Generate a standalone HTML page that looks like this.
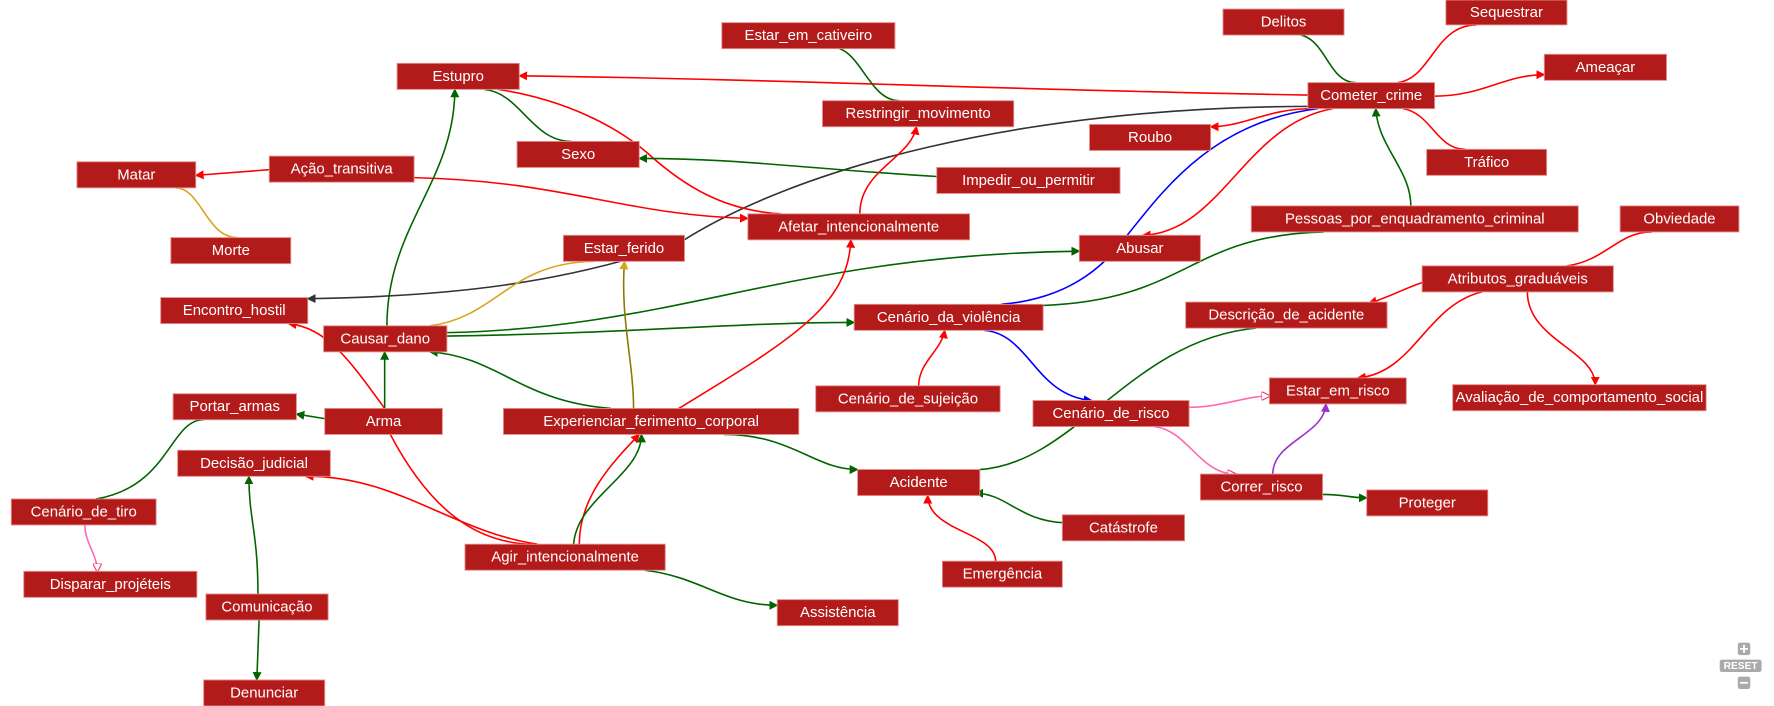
<!DOCTYPE html>
<html><head><meta charset="utf-8"><style>
html,body{margin:0;padding:0;background:#fff;}
svg{display:block;}
.n rect{fill:#b31b1b;stroke:#e58a8a;stroke-width:0.8;}
.n text{fill:#fff;font-family:"Liberation Sans",sans-serif;font-size:13.2px;text-anchor:middle;dominant-baseline:central;}
path{fill:none;stroke-width:1.4;}
.r{stroke:#ff0000}.g{stroke:#006400}.y{stroke:#daa520}.o{stroke:#8b7a00}.k{stroke:#333}.b{stroke:#0000ff}.p{stroke:#ff69b4}.v{stroke:#9932cc}
</style></head><body>
<svg width="1774" height="706" viewBox="0 0 1568 624" xmlns="http://www.w3.org/2000/svg">
<defs>
<marker id="mr" markerWidth="8" markerHeight="8" refX="7" refY="4" orient="auto" markerUnits="userSpaceOnUse"><path d="M0,0 L8,4 L0,8 z" style="fill:#f00;stroke:none"/></marker>
<marker id="mg" markerWidth="8" markerHeight="8" refX="7" refY="4" orient="auto" markerUnits="userSpaceOnUse"><path d="M0,0 L8,4 L0,8 z" style="fill:#006400;stroke:none"/></marker>
<marker id="mk" markerWidth="8" markerHeight="8" refX="7" refY="4" orient="auto" markerUnits="userSpaceOnUse"><path d="M0,0 L8,4 L0,8 z" style="fill:#333;stroke:none"/></marker>
<marker id="mb" markerWidth="8" markerHeight="8" refX="7" refY="4" orient="auto" markerUnits="userSpaceOnUse"><path d="M0,0 L8,4 L0,8 z" style="fill:#00f;stroke:none"/></marker>
<marker id="mo" markerWidth="8" markerHeight="8" refX="7" refY="4" orient="auto" markerUnits="userSpaceOnUse"><path d="M0,0 L8,4 L0,8 z" style="fill:#daa520;stroke:none"/></marker>
<marker id="mp" markerWidth="8" markerHeight="8" refX="7" refY="4" orient="auto" markerUnits="userSpaceOnUse"><path d="M0,0 L8,4 L0,8 z" style="fill:#fff;stroke:#ff3366;stroke-width:1"/></marker>
<marker id="mv" markerWidth="8" markerHeight="8" refX="7" refY="4" orient="auto" markerUnits="userSpaceOnUse"><path d="M0,0 L8,4 L0,8 z" style="fill:#9932cc;stroke:none"/></marker>
</defs>
<g>
<path class="r" d="M1156,84 C900,80 700,70 459,67" marker-end="url(#mr)"/>
<path class="g" d="M742,43 C762,50 770,89 795,89"/>
<path class="g" d="M1150,31 C1172,36 1175,73 1198,73"/>
<path class="r" d="M1235,73 C1265,70 1268,22 1305,22"/>
<path class="r" d="M1268,85 C1310,85 1330,66 1365,66" marker-end="url(#mr)"/>
<path class="r" d="M1160,96 C1120,96 1100,112 1070,112" marker-end="url(#mr)"/>
<path class="r" d="M1240,96 C1265,100 1270,132 1295,132"/>
<path class="g" d="M1247,182 C1247,150 1218,130 1216,96" marker-end="url(#mg)"/>
<path class="r" d="M1178,96 C1100,110 1080,205 1010,208" marker-end="url(#mr)"/>
<path class="b" d="M1165,96 C1050,110 1010,200 975,232 C950,255 920,266 885,269"/>
<path class="b" d="M870,292 C910,295 915,350 965,354" marker-end="url(#mb)"/>
<path class="k" d="M1160,94 C900,94 700,150 600,215 C500,250 400,262 272,264" marker-end="url(#mk)"/>
<path class="g" d="M428,79 C460,82 470,125 505,125"/>
<path class="r" d="M440,79 C500,88 545,112 572,135 C605,165 640,186 690,189"/>
<path class="g" d="M828,156 C700,148 650,140 565,140" marker-end="url(#mg)"/>
<path class="r" d="M760,189 C760,150 805,140 810,112" marker-end="url(#mr)"/>
<path class="r" d="M238,150 L173,155" marker-end="url(#mr)"/>
<path class="r" d="M366,157 C500,160 550,190 661,193" marker-end="url(#mr)"/>
<path class="y" d="M155,166 C178,166 182,210 210,210"/>
<path class="g" d="M342,288 C342,200 402,160 402,79" marker-end="url(#mg)"/>
<path class="y" d="M380,288 C440,280 450,232 525,231"/>
<path class="g" d="M395,294 C600,290 700,225 954,222" marker-end="url(#mg)"/>
<path class="g" d="M395,297 C550,295 650,285 755,285" marker-end="url(#mg)"/>
<path class="g" d="M922,270 C1050,265 1050,208 1170,205"/>
<path class="r" d="M340,361 C310,320 290,290 255,286" marker-end="url(#mr)"/>
<path class="g" d="M340,361 L340,311" marker-end="url(#mg)"/>
<path class="g" d="M287,370 L262,366" marker-end="url(#mg)"/>
<path class="r" d="M345,384 C380,450 420,480 470,481"/>
<path class="g" d="M540,361 C460,355 440,315 380,311" marker-end="url(#mg)"/>
<path class="o" d="M560,361 C560,320 548,280 552,231" marker-end="url(#mo)"/>
<path class="r" d="M600,361 C700,300 750,270 752,212" marker-end="url(#mr)"/>
<path class="g" d="M640,384 C700,384 720,415 758,415" marker-end="url(#mg)"/>
<path class="r" d="M512,481 C512,440 540,410 565,384" marker-end="url(#mr)"/>
<path class="g" d="M507,481 C510,440 567,420 567,384" marker-end="url(#mg)"/>
<path class="r" d="M475,481 C400,470 350,420 270,421" marker-end="url(#mr)"/>
<path class="g" d="M570,504 C620,510 640,535 687,535" marker-end="url(#mg)"/>
<path class="r" d="M812,341 C812,320 832,310 835,292" marker-end="url(#mr)"/>
<path class="g" d="M866,415 C950,410 1000,300 1110,290"/>
<path class="r" d="M1262,248 C1240,255 1230,262 1210,268" marker-end="url(#mr)"/>
<path class="r" d="M1385,235 C1420,230 1430,205 1460,205"/>
<path class="r" d="M1310,258 C1260,270 1250,330 1200,334" marker-end="url(#mr)"/>
<path class="r" d="M1350,258 C1350,300 1410,310 1410,340" marker-end="url(#mr)"/>
<path class="p" d="M1051,360 C1080,360 1100,350 1122,350" marker-end="url(#mp)"/>
<path class="p" d="M1020,377 C1050,380 1060,419 1092,419" marker-end="url(#mp)"/>
<path class="v" d="M1125,419 C1125,390 1170,385 1172,357" marker-end="url(#mv)"/>
<path class="g" d="M1169,437 C1190,437 1190,440 1208,440" marker-end="url(#mg)"/>
<path class="g" d="M940,462 C900,460 890,436 862,436" marker-end="url(#mg)"/>
<path class="r" d="M880,496 C880,470 820,470 820,438" marker-end="url(#mr)"/>
<path class="g" d="M85,441 C150,430 150,371 180,371"/>
<path class="p" d="M75,464 C75,480 86,490 86,505" marker-end="url(#mp)"/>
<path class="g" d="M228,525 C228,470 220,460 220,421" marker-end="url(#mg)"/>
<path class="g" d="M229,548 L227,601" marker-end="url(#mg)"/>
</g>
<g class="n">
<rect x="351" y="56" width="108" height="23"/><text x="405" y="67.5">Estupro</text>
<rect x="638" y="20" width="153" height="23"/><text x="714.5" y="31.5">Estar_em_cativeiro</text>
<rect x="1081" y="8" width="107" height="23"/><text x="1134.5" y="19.5">Delitos</text>
<rect x="1278" y="0" width="107" height="22"/><text x="1331.5" y="11">Sequestrar</text>
<rect x="1365" y="48" width="108" height="23"/><text x="1419" y="59.5">Ameaçar</text>
<rect x="1156" y="73" width="112" height="23"/><text x="1212" y="84.5">Cometer_crime</text>
<rect x="727" y="89" width="169" height="23"/><text x="811.5" y="100.5">Restringir_movimento</text>
<rect x="963" y="110" width="107" height="23"/><text x="1016.5" y="121.5">Roubo</text>
<rect x="457" y="125" width="108" height="23"/><text x="511" y="136.5">Sexo</text>
<rect x="1261" y="132" width="106" height="23"/><text x="1314" y="143.5">Tráfico</text>
<rect x="68" y="143" width="105" height="23"/><text x="120.5" y="154.5">Matar</text>
<rect x="238" y="138" width="128" height="23"/><text x="302" y="149.5">Ação_transitiva</text>
<rect x="828" y="148" width="162" height="23"/><text x="909" y="159.5">Impedir_ou_permitir</text>
<rect x="661" y="189" width="196" height="23"/><text x="759" y="200.5">Afetar_intencionalmente</text>
<rect x="1106" y="182" width="289" height="23"/><text x="1250.5" y="193.5">Pessoas_por_enquadramento_criminal</text>
<rect x="1432" y="182" width="105" height="23"/><text x="1484.5" y="193.5">Obviedade</text>
<rect x="151" y="210" width="106" height="23"/><text x="204" y="221.5">Morte</text>
<rect x="498" y="208" width="107" height="23"/><text x="551.5" y="219.5">Estar_ferido</text>
<rect x="954" y="208" width="107" height="23"/><text x="1007.5" y="219.5">Abusar</text>
<rect x="1257" y="235" width="169" height="23"/><text x="1341.5" y="246.5">Atributos_graduáveis</text>
<rect x="142" y="263" width="130" height="23"/><text x="207" y="274.5">Encontro_hostil</text>
<rect x="1048" y="267" width="178" height="23"/><text x="1137" y="278.5">Descrição_de_acidente</text>
<rect x="755" y="269" width="167" height="23"/><text x="838.5" y="280.5">Cenário_da_violência</text>
<rect x="286" y="288" width="109" height="23"/><text x="340.5" y="299.5">Causar_dano</text>
<rect x="721" y="341" width="163" height="23"/><text x="802.5" y="352.5">Cenário_de_sujeição</text>
<rect x="1122" y="334" width="121" height="23"/><text x="1182.5" y="345.5">Estar_em_risco</text>
<rect x="1284" y="340" width="224" height="23"/><text x="1396" y="351.5">Avaliação_de_comportamento_social</text>
<rect x="153" y="348" width="109" height="23"/><text x="207.5" y="359.5">Portar_armas</text>
<rect x="287" y="361" width="104" height="23"/><text x="339" y="372.5">Arma</text>
<rect x="445" y="361" width="261" height="23"/><text x="575.5" y="372.5">Experienciar_ferimento_corporal</text>
<rect x="913" y="354" width="138" height="23"/><text x="982" y="365.5">Cenário_de_risco</text>
<rect x="157" y="398" width="135" height="23"/><text x="224.5" y="409.5">Decisão_judicial</text>
<rect x="758" y="415" width="108" height="23"/><text x="812" y="426.5">Acidente</text>
<rect x="1061" y="419" width="108" height="23"/><text x="1115" y="430.5">Correr_risco</text>
<rect x="1208" y="433" width="107" height="23"/><text x="1261.5" y="444.5">Proteger</text>
<rect x="10" y="441" width="128" height="23"/><text x="74" y="452.5">Cenário_de_tiro</text>
<rect x="939" y="455" width="108" height="23"/><text x="993" y="466.5">Catástrofe</text>
<rect x="411" y="481" width="177" height="23"/><text x="499.5" y="492.5">Agir_intencionalmente</text>
<rect x="833" y="496" width="106" height="23"/><text x="886" y="507.5">Emergência</text>
<rect x="21" y="505" width="153" height="23"/><text x="97.5" y="516.5">Disparar_projéteis</text>
<rect x="182" y="525" width="108" height="23"/><text x="236" y="536.5">Comunicação</text>
<rect x="687" y="530" width="107" height="23"/><text x="740.5" y="541.5">Assistência</text>
<rect x="180" y="601" width="107" height="23"/><text x="233.5" y="612.5">Denunciar</text>
</g>
<g>
<rect x="1536" y="568" width="11" height="11" rx="2" fill="#aaa"/><path d="M1538,573.5 H1545 M1541.5,570 V577" style="stroke:#fff;stroke-width:1.6"/>
<rect x="1520" y="583" width="37" height="11" rx="2" fill="#aaa"/><text x="1538.5" y="589" style="fill:#fff;font-family:'Liberation Sans',sans-serif;font-size:9px;font-weight:bold;text-anchor:middle;dominant-baseline:central">RESET</text>
<rect x="1536" y="598" width="11" height="11" rx="2" fill="#aaa"/><path d="M1538,603.5 H1545" style="stroke:#fff;stroke-width:1.6"/>
</g>
</svg>
</body></html>
